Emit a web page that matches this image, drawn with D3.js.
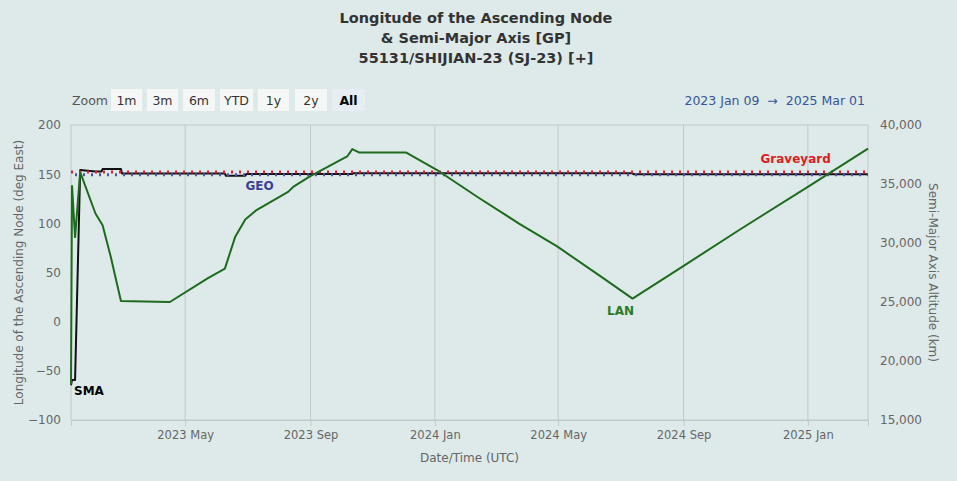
<!DOCTYPE html>
<html><head><meta charset="utf-8">
<script src="https://cdn.jsdelivr.net/npm/d3@7"></script>
<style>
html,body{margin:0;padding:0;background:#deeaea;}
svg{display:block;font-family:"DejaVu Sans",sans-serif;}
</style></head><body>
<svg id="c" width="957" height="481"></svg>
<script>
// ---- data ----
const titleLines = ["Longitude of the Ascending Node", "& Semi-Major Axis [GP]", "55131/SHIJIAN-23 (SJ-23) [+]"];
const zoomButtons = ["1m", "3m", "6m", "YTD", "1y", "2y", "All"];
const rangeText = "2023 Jan 09  \u2192  2025 Mar 01";
const xDomain = ["2023-01-09", "2025-03-01"];
const leftTicks = [-100, -50, 0, 50, 100, 150, 200];
const rightTicks = [15000, 20000, 25000, 30000, 35000, 40000];
const GEO = 35786;
const GRAVEYARD = 36021;

const lanDates = ["2023-01-09","2023-01-10","2023-01-13","2023-01-18","2023-02-02","2023-02-09","2023-02-17","2023-02-27",
  "2023-03-22","2023-04-16","2023-05-23","2023-06-09","2023-06-19","2023-06-29","2023-07-10","2023-08-10","2023-08-15",
  "2023-08-31","2023-10-07","2023-10-12","2023-10-19","2023-12-04","2024-01-05","2024-02-13","2024-03-24","2024-04-30",
  "2024-06-11","2024-07-13","2024-08-31","2024-10-26","2025-01-01","2025-03-01"];
const lanValues = [-64,138,86,152,110,98,66,21,
  20.5,20,44,54,86,104,113.5,132,137,
  147.5,168,175.5,172,172,153,126,99.5,76.5,
  46.5,23.5,56,93.5,137,176];

const smaDates = ["2023-01-09","2023-01-10","2023-01-13","2023-01-18","2023-02-02","2023-02-08","2023-02-09","2023-02-27",
  "2023-02-28","2023-06-09","2023-06-10","2023-06-29","2023-06-30","2023-10-12","2023-10-13","2024-07-13","2024-07-14","2025-03-01"];
const smaValues = [17950,18400,18400,36180,36050,36060,36270,36270,
  35880,35880,35700,35700,35840,35840,35910,35910,35830,35830];

// ---- layout ----
const svg = d3.select("#c");
const L = 71, R = 868, T = 125, B = 420;
const parse = d3.utcParse("%Y-%m-%d");
const x = d3.scaleUtc().domain(xDomain.map(parse)).range([L, R]);
const yL = d3.scaleLinear().domain([-100, 200]).range([B, T]);
const yR = d3.scaleLinear().domain([15000, 40000]).range([B, T]);

// title
svg.append("g").selectAll("text").data(titleLines).join("text")
  .attr("x", 476).attr("y", (d, i) => 23 + i * 20)
  .attr("text-anchor", "middle").attr("font-size", 14.5).attr("font-weight", "bold")
  .attr("fill", "#333").text(d => d);

// range selector
svg.append("text").attr("x", 72).attr("y", 105).attr("font-size", 12.5).attr("fill", "#555").text("Zoom");
const btnX = [111, 147, 183, 220, 258, 295, 332];
const btnW = [31, 31, 32, 33, 31, 32, 33];
const bg = svg.append("g");
zoomButtons.forEach((b, i) => {
  const sel = b === "All";
  bg.append("rect").attr("x", btnX[i]).attr("y", 89).attr("width", btnW[i]).attr("height", 22)
    .attr("fill", sel ? "#e6edf3" : "#f5f7f7");
  bg.append("text").attr("x", btnX[i] + btnW[i] / 2).attr("y", 105).attr("text-anchor", "middle")
    .attr("font-size", 12.5).attr("font-weight", sel ? "bold" : "normal")
    .attr("fill", sel ? "#000" : "#333").text(b);
});
svg.append("text").attr("x", 865).attr("y", 105).attr("text-anchor", "end")
  .attr("font-size", 12.5).attr("fill", "#3355a0").attr("xml:space", "preserve").text(rangeText);

// plot border
svg.append("rect").attr("x", L).attr("y", T).attr("width", R - L).attr("height", B - T)
  .attr("fill", "none").attr("stroke", "#c2c8c8").attr("stroke-width", 1);

// x axis with grid
const xTicks = x.ticks(d3.utcMonth.every(4));
const gx = svg.append("g").attr("transform", `translate(0,${B})`)
  .call(d3.axisBottom(x).tickValues(xTicks).tickFormat(d3.utcFormat("%Y %b")).tickSize(6).tickPadding(5));
gx.select(".domain").attr("stroke", "#c2c8c8");
gx.selectAll(".tick line").attr("stroke", "#c2c8c8");
gx.selectAll(".tick text").attr("font-size", 11.5).attr("fill", "#666").attr("font-family", "DejaVu Sans");
svg.append("g").selectAll("line").data(xTicks).join("line")
  .attr("x1", d => x(d)).attr("x2", d => x(d)).attr("y1", T).attr("y2", B)
  .attr("stroke", "#c2c8c8").attr("stroke-width", 1);

// left axis
const gl = svg.append("g").attr("transform", `translate(${L},0)`)
  .call(d3.axisLeft(yL).tickValues(leftTicks).tickSize(0).tickPadding(10));
gl.select(".domain").remove();
gl.selectAll(".tick text").attr("font-size", 12).attr("fill", "#666").attr("font-family", "DejaVu Sans");

// right axis
const gr = svg.append("g").attr("transform", `translate(${R},0)`)
  .call(d3.axisRight(yR).tickValues(rightTicks).tickFormat(d3.format(",")).tickSize(0).tickPadding(12));
gr.select(".domain").remove();
gr.selectAll(".tick text").attr("font-size", 12).attr("fill", "#666").attr("font-family", "DejaVu Sans");

// axis titles
svg.append("text").attr("transform", `translate(23,${(T + B) / 2}) rotate(-90)`)
  .attr("text-anchor", "middle").attr("font-size", 12).attr("fill", "#666")
  .text("Longitude of the Ascending Node (deg East)");
svg.append("text").attr("transform", `translate(929,${(T + B) / 2}) rotate(90)`)
  .attr("text-anchor", "middle").attr("font-size", 12).attr("fill", "#666")
  .text("Semi-Major Axis Altitude (km)");
svg.append("text").attr("x", (L + R) / 2).attr("y", 462).attr("text-anchor", "middle")
  .attr("font-size", 12).attr("fill", "#666").text("Date/Time (UTC)");

// series
const lan = lanDates.map((d, i) => ({ t: parse(d), v: lanValues[i] }));
const sma = smaDates.map((d, i) => ({ t: parse(d), v: smaValues[i] }));

svg.append("path").datum(sma)
  .attr("d", d3.line().x(d => x(d.t)).y(d => yR(d.v)))
  .attr("fill", "none").attr("stroke", "#111").attr("stroke-width", 2).attr("stroke-linejoin", "round");

svg.append("line").attr("x1", L).attr("x2", R).attr("y1", yR(GEO)).attr("y2", yR(GEO))
  .attr("stroke", "#5050b0").attr("stroke-width", 3).attr("stroke-dasharray", "2,6").attr("stroke-dashoffset", -4);
svg.append("line").attr("x1", L).attr("x2", R).attr("y1", yR(GRAVEYARD)).attr("y2", yR(GRAVEYARD))
  .attr("stroke", "#e0203a").attr("stroke-width", 3).attr("stroke-dasharray", "2,6");

svg.append("path").datum(lan)
  .attr("d", d3.line().x(d => x(d.t)).y(d => yL(d.v)))
  .attr("fill", "none").attr("stroke", "#1e6b1e").attr("stroke-width", 2).attr("stroke-linejoin", "round");

// labels
svg.append("text").attr("x", x(parse("2023-07-13"))).attr("y", yR(GEO) + 15)
  .attr("text-anchor", "middle").attr("font-size", 12).attr("font-weight", "bold").attr("fill", "#3a3f9a").text("GEO");
svg.append("text").attr("x", x(parse("2024-12-20"))).attr("y", yR(GRAVEYARD) - 9)
  .attr("text-anchor", "middle").attr("font-size", 12).attr("font-weight", "bold").attr("fill", "#e02020").text("Graveyard");
svg.append("text").attr("x", x(sma[0].t) + 3).attr("y", yR(sma[0].v) + 10)
  .attr("font-size", 12).attr("font-weight", "bold").attr("fill", "#000").text("SMA");
svg.append("text").attr("x", x(lan[27].t) - 12).attr("y", yL(lan[27].v) + 16)
  .attr("text-anchor", "middle").attr("font-size", 12).attr("font-weight", "bold").attr("fill", "#2a7a2a").text("LAN");
</script>
</body></html>
